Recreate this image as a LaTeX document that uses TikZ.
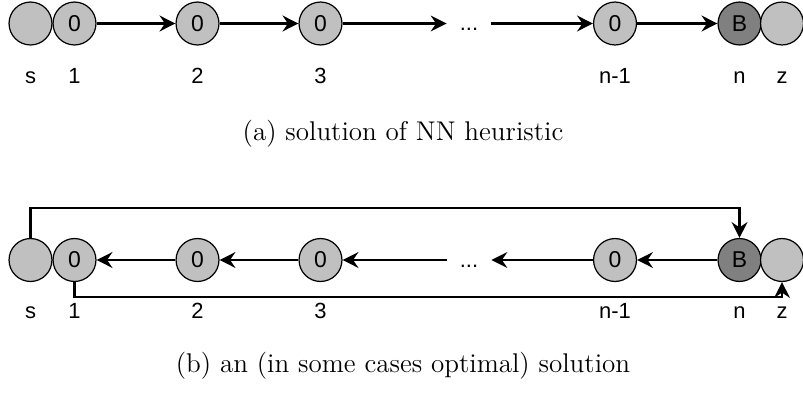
\documentclass[tikz,border=0pt]{standalone}
\usepackage{fontspec}
\newfontfamily\lsans{Liberation Sans}
\usetikzlibrary{arrows.meta}
\definecolor{lgray}{HTML}{C0C0C0}
\definecolor{dgray}{HTML}{808080}
\begin{document}
\begin{tikzpicture}[x=0.41pt,y=-0.41pt,
  city/.style={circle,draw=black,line width=0.5pt,fill=lgray,minimum size=17.6pt,inner sep=0pt,font=\lsans\fontsize{9.4}{11}\selectfont},
  depot/.style={city,fill=dgray},
  lbl/.style={font=\lsans\fontsize{9}{11}\selectfont,inner sep=0pt,anchor=base},
  dotsnode/.style={font=\lsans\fontsize{9}{11}\selectfont,inner sep=0pt,minimum width=18pt,text height=6pt,text depth=0pt},
  conn/.style={line width=0.85pt,-{Stealth[length=6.5pt,width=6.5pt,inset=2.2pt]}},
  captext/.style={font=\fontsize{11.1}{13}\selectfont,inner sep=0pt}]
\useasboundingbox (0,0) rectangle (803,412);
% ---- (a) ----
\node[city] (as) at (30.5,23.5) {};
\node[city] (a1) at (74.5,23.5) {0};
\node[city] (a2) at (197.5,23.5) {0};
\node[city] (a3) at (320.5,23.5) {0};
\node[dotsnode] (ad) at (469,23.5) {...};
\node[city] (an1) at (615,23.5) {0};
\node[depot] (an) at (739.5,23.5) {B};
\node[city] (az) at (782,23.5) {};
\draw[conn] (a1) -- (a2);
\draw[conn] (a2) -- (a3);
\draw[conn] (a3) -- (ad);
\draw[conn] (ad) -- (an1);
\draw[conn] (an1) -- (an);
\node[lbl] (ls) at (30.5,83) {s};
\node[lbl] (l1) at (74.5,83) {1};
\node[lbl] (l2) at (197.5,83) {2};
\node[lbl] (l3) at (320.5,83) {3};
\node[lbl] (ln1) at (615,83) {n-1};
\node[lbl] (ln) at (739.5,83) {n};
\node[lbl] (lz) at (782,83) {z};
\node[captext] (capa) at (403,134) {(a) solution of NN heuristic};
% ---- (b) ----
\node[city] (bs) at (30.5,260) {};
\node[city] (b1) at (74.5,260) {0};
\node[city] (b2) at (197.5,260) {0};
\node[city] (b3) at (320.5,260) {0};
\node[dotsnode] (bd) at (469,260) {...};
\node[city] (bn1) at (615,260) {0};
\node[depot] (bn) at (739.5,260) {B};
\node[city] (bz) at (782,260) {};
\draw[conn] (bn) -- (bn1);
\draw[conn] (bn1) -- (bd);
\draw[conn] (bd) -- (b3);
\draw[conn] (b3) -- (b2);
\draw[conn] (b2) -- (b1);
\draw[conn] (bs.north) -- ++(0,-29.5) -| (bn.north);
\draw[conn] (b1.south) -- ++(0,14.5) -| (bz.south);
\node[lbl] (ms) at (30.5,318) {s};
\node[lbl] (m1) at (74.5,318) {1};
\node[lbl] (m2) at (197.5,318) {2};
\node[lbl] (m3) at (320.5,318) {3};
\node[lbl] (mn1) at (615,318) {n-1};
\node[lbl] (mn) at (739.5,318) {n};
\node[lbl] (mz) at (782,318) {z};
\node[captext] (capb) at (403,366) {(b) an (in some cases optimal) solution};
\end{tikzpicture}
\end{document}
